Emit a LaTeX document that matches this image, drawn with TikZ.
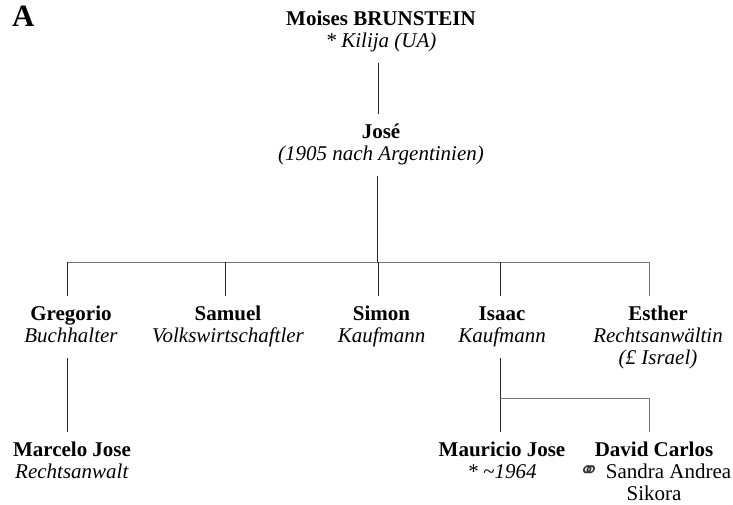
\documentclass[tikz,border=0pt]{standalone}
\usepackage{fontspec}
\setmainfont{Liberation Serif}
\newfontfamily\symfont[FakeSlant=0.25]{DejaVu Sans}
\begin{document}
\begin{tikzpicture}[x=1pt,y=-1pt,
  person/.style={anchor=north,align=center,inner xsep=0pt,inner ysep=9pt,
    font=\fontsize{21}{22}\selectfont},
  vline/.style={draw=black!85,line width=0.7pt},
  hline/.style={draw=black!55,line width=0.7pt}]
\useasboundingbox (0,0) rectangle (733,504);
\newcommand\nm[1]{\strut\textbf{#1}}
\newcommand\sub[1]{\strut\textit{#1}}
\node[anchor=base west,inner sep=0pt,font=\fontsize{31}{31}\selectfont\bfseries] (titleA) at (12,26) {A};
\node[person] (moises) at (381,0.6) {\nm{Moises BRUNSTEIN}\\\sub{* Kilija (UA)}};
\node[person] (jose) at (381,113.6) {\nm{José}\\\sub{(1905 nach Argentinien)}};
\node[person] (gregorio) at (71,295.6) {\nm{Gregorio}\\\sub{Buchhalter}};
\node[person] (samuel) at (228,295.6) {\nm{Samuel}\\\sub{Volkswirtschaftler}};
\node[person] (simon) at (381.5,295.6) {\nm{Simon}\\\sub{Kaufmann}};
\node[person] (isaac) at (502,295.6) {\nm{Isaac}\\\sub{Kaufmann}};
\node[person] (esther) at (658,295.6) {\nm{Esther}\\\sub{Rechtsanwältin}\\\sub{(£ Israel)}};
\node[person] (marcelo) at (72,431.6) {\nm{Marcelo Jose}\\\sub{Rechtsanwalt}};
\node[person] (mauricio) at (502,431.6) {\nm{Mauricio Jose}\\\sub{* \textasciitilde 1964}};
\node[person] (david) at (654,431.6) {\nm{David Carlos}\\\strut\raisebox{-0.5pt}{\symfont\fontsize{24}{24}\selectfont\color{black!80}⚭}\hspace{9pt}Sandra Andrea\\\strut Sikora};
\coordinate (bar) at (0,262);
\coordinate (bar2) at (0,398);
\draw[vline] ([xshift=-3pt]moises.south) -- ([xshift=-3pt]moises.south |- jose.north);
\draw[vline] ([xshift=-3.5pt]jose.south) -- ([xshift=-3.5pt]jose.south |- bar);
\draw[hline] ([xshift=-4pt]gregorio.north |- bar) -- ([xshift=-9pt]esther.north |- bar);
\draw[vline] ([xshift=-4pt]gregorio.north) -- ([xshift=-4pt]gregorio.north |- bar);
\draw[vline] ([xshift=-3pt]samuel.north) -- ([xshift=-3pt]samuel.north |- bar);
\draw[vline] ([xshift=-3.5pt]simon.north) -- ([xshift=-3.5pt]simon.north |- bar);
\draw[vline] ([xshift=-2pt]isaac.north) -- ([xshift=-2pt]isaac.north |- bar);
\draw[hline] ([xshift=-9pt]esther.north) -- ([xshift=-9pt]esther.north |- bar);
\draw[vline] ([xshift=-4pt]gregorio.south) -- ([xshift=-4pt]gregorio.south |- marcelo.north);
\draw[vline] ([xshift=-2pt]isaac.south) -- ([xshift=-2pt]isaac.south |- mauricio.north);
\draw[hline] ([xshift=-2pt]isaac.south |- bar2) -- ([xshift=-5pt]david.north |- bar2);
\draw[hline] ([xshift=-5pt]david.north) -- ([xshift=-5pt]david.north |- bar2);
\end{tikzpicture}
\end{document}
